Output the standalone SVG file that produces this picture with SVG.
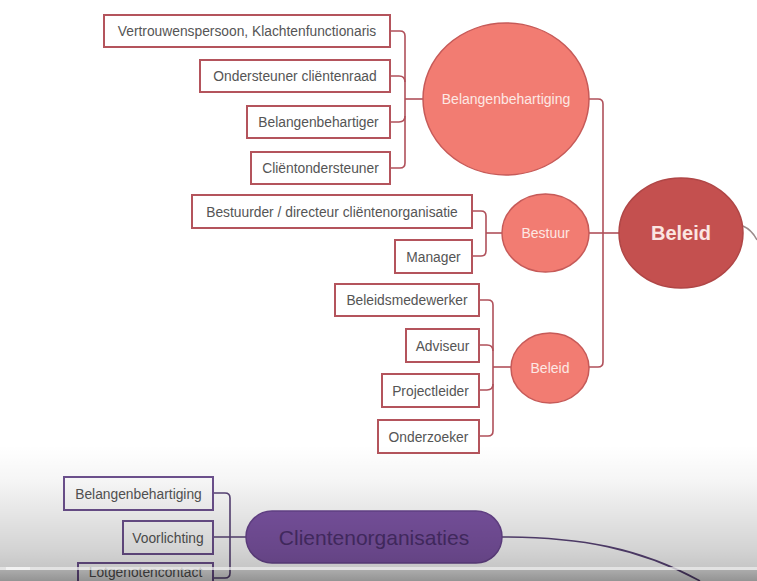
<svg xmlns="http://www.w3.org/2000/svg" width="757" height="581" viewBox="0 0 757 581">
<defs>
<style>
.box{fill:#ffffff;stroke:#b4545c;stroke-width:2}
.pbox{fill:#ffffff;stroke:#6e5290;stroke-width:2}
.bt{font-family:"Liberation Sans",Arial,sans-serif;font-size:13.8px;fill:#555555;text-anchor:middle}
.ct{font-family:"Liberation Sans",Arial,sans-serif;fill:#fde8e4;text-anchor:middle;font-size:14px}
.con{fill:none;stroke:#b0505a;stroke-width:1.6}
.pcon{fill:none;stroke:#5a4478;stroke-width:1.6}
.circ{fill:#f27c72;stroke:#c65a58;stroke-width:1.5}
</style>
<linearGradient id="ov" x1="0" y1="0" x2="0" y2="1">
<stop offset="0" stop-color="#000" stop-opacity="0"/>
<stop offset="0.3" stop-color="#000" stop-opacity="0.04"/>
<stop offset="0.85" stop-color="#000" stop-opacity="0.17"/>
<stop offset="1" stop-color="#000" stop-opacity="0.22"/>
</linearGradient>
<linearGradient id="ov2" x1="0" y1="0" x2="0" y2="1">
<stop offset="0" stop-color="#000" stop-opacity="0.33"/>
<stop offset="1" stop-color="#000" stop-opacity="0.42"/>
</linearGradient>
</defs>
<rect x="0" y="0" width="757" height="581" fill="#ffffff"/>

<g id="connectors">
<path class="con" d="M390,31 H400 Q405,31 405,36 V163 Q405,168 400,168 H390"/>
<path class="con" d="M390,76 H399 Q405,76 405,82"/>
<path class="con" d="M390,122 H399 Q405,122 405,116"/>
<path class="con" d="M405,99 H423"/>
<path class="con" d="M472,211 H481 Q486,211 486,216 V251 Q486,256 481,256 H472"/>
<path class="con" d="M486,233 H502"/>
<path class="con" d="M479,300 H488 Q493,300 493,305 V431 Q493,436 488,436 H479"/>
<path class="con" d="M479,345 H487 Q493,345 493,351"/>
<path class="con" d="M479,390 H487 Q493,390 493,384"/>
<path class="con" d="M493,367 H511"/>
<path class="con" d="M589,99 H598 Q603,99 603,104 V362 Q603,367 598,367 H589"/>
<path class="con" d="M589,233 H619"/>
<path fill="none" stroke="#9a8a8a" stroke-width="1.5" d="M743,226 Q752,230 757,240"/>
<path class="pcon" d="M213,493 H225 Q230,493 230,498 V573 Q230,578 225,578 H213"/>
<path class="pcon" d="M213,537 H246"/>
<path class="pcon" d="M502,537 C580,537 640,548 700,581"/>
</g>

<g id="n-vertrouwen"><rect class="box" x="104" y="15" width="286" height="32"/><text class="bt" x="247" y="36">Vertrouwenspersoon, Klachtenfunctionaris</text></g>
<g id="n-ondersteuner"><rect class="box" x="200" y="60" width="190" height="32"/><text class="bt" x="295" y="81">Ondersteuner cliëntenraad</text></g>
<g id="n-belangenbehartiger"><rect class="box" x="247" y="106" width="143" height="32"/><text class="bt" x="318.5" y="127">Belangenbehartiger</text></g>
<g id="n-clientondersteuner"><rect class="box" x="251" y="152" width="139" height="32"/><text class="bt" x="320.5" y="173">Cliëntondersteuner</text></g>

<g id="n-bestuurder"><rect class="box" x="192" y="195" width="280" height="33"/><text class="bt" x="332" y="216.5">Bestuurder / directeur cliëntenorganisatie</text></g>
<g id="n-manager"><rect class="box" x="395" y="240" width="77" height="33"/><text class="bt" x="433.5" y="261.5">Manager</text></g>

<g id="n-beleidsmedewerker"><rect class="box" x="335" y="284" width="144" height="32"/><text class="bt" x="407" y="305">Beleidsmedewerker</text></g>
<g id="n-adviseur"><rect class="box" x="406" y="329" width="73" height="33"/><text class="bt" x="442.5" y="350.5">Adviseur</text></g>
<g id="n-projectleider"><rect class="box" x="382" y="374" width="97" height="33"/><text class="bt" x="430.5" y="395.5">Projectleider</text></g>
<g id="n-onderzoeker"><rect class="box" x="378" y="420" width="101" height="33"/><text class="bt" x="428.5" y="441.5">Onderzoeker</text></g>

<g id="n-c-belangenbehartiging"><ellipse class="circ" cx="506" cy="99" rx="83" ry="76"/><text class="ct" x="506" y="104">Belangenbehartiging</text></g>
<g id="n-c-bestuur"><ellipse class="circ" cx="545.5" cy="233" rx="43.5" ry="39"/><text class="ct" x="545.5" y="238">Bestuur</text></g>
<g id="n-c-beleid"><ellipse class="circ" cx="550" cy="368" rx="39" ry="35"/><text class="ct" x="550" y="373">Beleid</text></g>
<g id="n-beleid-main"><ellipse cx="681" cy="233" rx="62" ry="55" fill="#c4504f" stroke="#b04646" stroke-width="1.5"/><text x="681" y="240" font-family="'Liberation Sans',Arial,sans-serif" font-size="20" font-weight="bold" fill="#fbe6e2" text-anchor="middle">Beleid</text></g>

<g id="n-p-belangenbehartiging"><rect class="pbox" x="64" y="477" width="149" height="33"/><text class="bt" x="138.5" y="498.5">Belangenbehartiging</text></g>
<g id="n-p-voorlichting"><rect class="pbox" x="123" y="521" width="90" height="33"/><text class="bt" x="168" y="542.5">Voorlichting</text></g>
<g id="n-p-lotgenoten"><rect class="pbox" x="78" y="563" width="135" height="33"/><text class="bt" x="145.5" y="577">Lotgenotencontact</text></g>
<g id="n-clientenorganisaties"><rect x="246" y="511" width="256" height="52" rx="26" fill="#7e55a6" stroke="#6a4690" stroke-width="1.5"/><text x="374" y="544.5" font-family="'Liberation Sans',Arial,sans-serif" font-size="21" fill="#4b2f6c" text-anchor="middle">Clientenorganisaties</text></g>

<rect x="0" y="445" width="757" height="122" fill="url(#ov)"/>
<rect x="0" y="567" width="757" height="3" fill="#dcdcdc" opacity="0.8"/>
<rect x="0" y="570" width="757" height="11" fill="url(#ov2)"/>
<rect x="6" y="567" width="24" height="3" fill="#f2f2f2"/>
</svg>
